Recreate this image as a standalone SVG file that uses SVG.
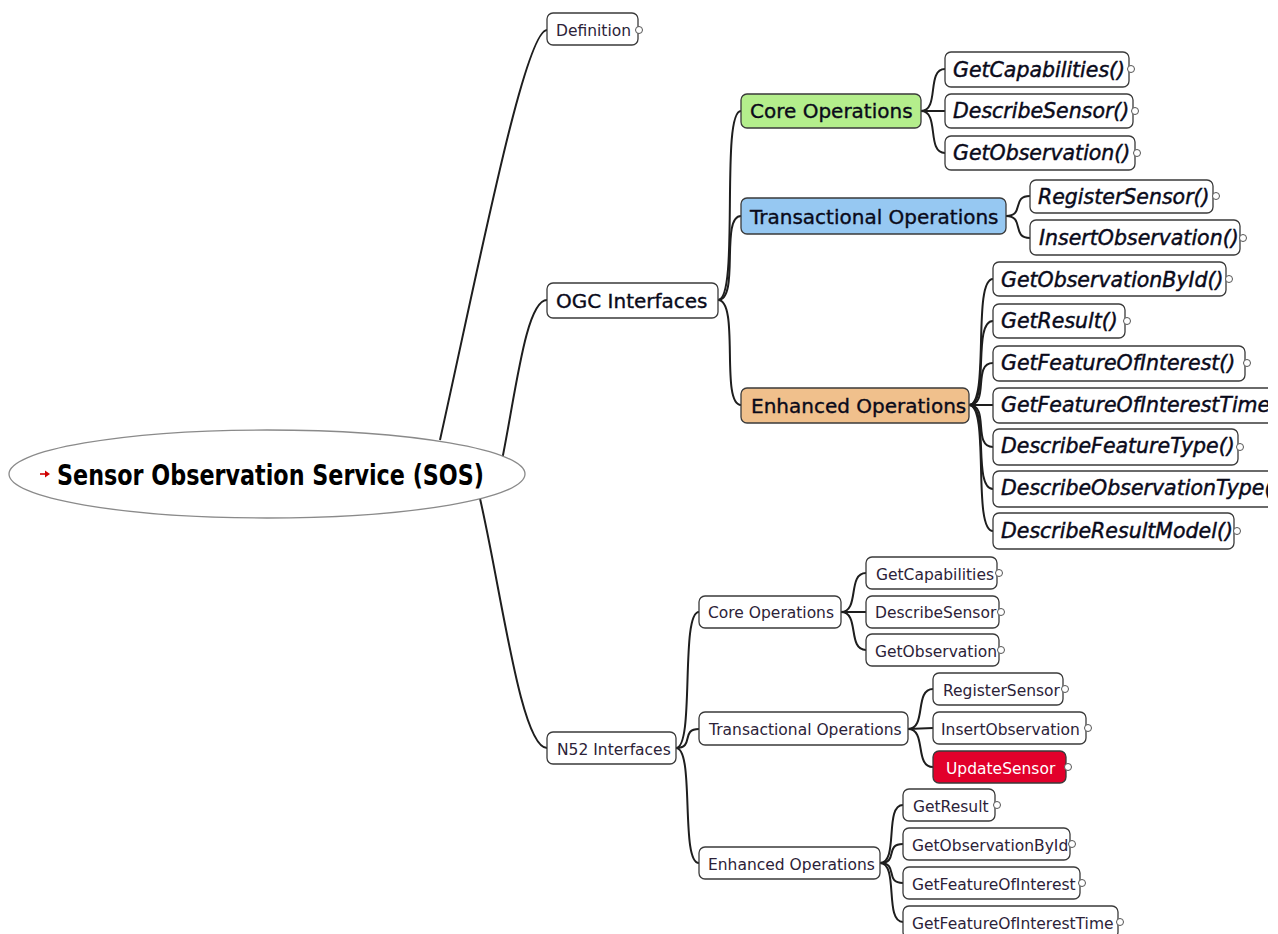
<svg xmlns="http://www.w3.org/2000/svg" width="1278" height="934" viewBox="0 0 1278 934">
  <defs>
    <style>
      .edge { fill: none; stroke: #1e1e1e; stroke-width: 2; }
      .box { fill: #ffffff; stroke: #3a3a3a; stroke-width: 1.3; }
      .green { fill: #b4ee8c; }
      .blue { fill: #96c8f2; }
      .orange { fill: #f0c08c; }
      .red { fill: #e2002b; }
      .fold { fill: #ffffff; stroke: #555555; stroke-width: 1; }
      .t { font-family: "DejaVu Sans", "Liberation Sans", sans-serif; fill: #0a0a1a; }
      .lg { font-size: 20px; stroke: #0a0a1a; stroke-width: 0.35; }
      .it { font-size: 20.5px; font-style: italic; stroke: #0a0a1a; stroke-width: 0.45; }
      .sm { font-size: 15.5px; fill: #2c2238; }
      .root { font-family: "DejaVu Sans Condensed", "DejaVu Sans", sans-serif; font-weight: bold; font-size: 28px; fill: #000; }
    </style>
    <clipPath id="view">
      <rect x="0" y="0" width="1268" height="934"/>
    </clipPath>
  </defs>

  <!-- connectors -->
  <g id="connectors">
    <!-- root branches -->
    <path class="edge" d="M440 440 C480 260 525 30 547 30"/>
    <path class="edge" d="M500 470 C515 400 525 300 547 300"/>
    <path class="edge" d="M478 490 C500 580 520 748 547 748"/>
    <!-- OGC Interfaces -->
    <path class="edge" d="M718 300 C740 300 720 111 741 111"/>
    <path class="edge" d="M718 300 C740 300 720 216 741 216"/>
    <path class="edge" d="M718 300 C740 300 720 405 741 405"/>
    <!-- OGC core -->
    <path class="edge" d="M921 111 C940 111 926 69 945 69"/>
    <path class="edge" d="M921 111 L945 111"/>
    <path class="edge" d="M921 111 C940 111 926 153 945 153"/>
    <!-- OGC transactional -->
    <path class="edge" d="M1006 216 C1025 216 1011 196 1030 196"/>
    <path class="edge" d="M1006 216 C1025 216 1011 238 1030 238"/>
    <!-- OGC enhanced -->
    <path class="edge" d="M969 405 C990 405 972 279 993 279"/>
    <path class="edge" d="M969 405 C990 405 972 321 993 321"/>
    <path class="edge" d="M969 405 C990 405 972 363 993 363"/>
    <path class="edge" d="M969 405 L993 405"/>
    <path class="edge" d="M969 405 C990 405 972 447 993 447"/>
    <path class="edge" d="M969 405 C990 405 972 489 993 489"/>
    <path class="edge" d="M969 405 C990 405 972 531 993 531"/>
    <!-- N52 Interfaces -->
    <path class="edge" d="M676 748 C695 748 680 612 699 612"/>
    <path class="edge" d="M676 748 C695 748 680 729 699 729"/>
    <path class="edge" d="M676 748 C695 748 680 863 699 863"/>
    <!-- N52 core -->
    <path class="edge" d="M841 612 C860 612 847 573 866 573"/>
    <path class="edge" d="M841 612 L866 612"/>
    <path class="edge" d="M841 612 C860 612 847 650 866 650"/>
    <!-- N52 transactional -->
    <path class="edge" d="M908 729 C927 729 914 689 933 689"/>
    <path class="edge" d="M908 729 L933 728"/>
    <path class="edge" d="M908 729 C927 729 914 767 933 767"/>
    <!-- N52 enhanced -->
    <path class="edge" d="M880 863 C899 863 884 805 903 805"/>
    <path class="edge" d="M880 863 C899 863 884 844 903 844"/>
    <path class="edge" d="M880 863 C899 863 884 883 903 883"/>
    <path class="edge" d="M880 863 C899 863 884 922 903 922"/>
  </g>

  <!-- root -->
  <g id="root">
    <ellipse cx="267" cy="474" rx="258" ry="44" fill="#ffffff" stroke="#8a8a8a" stroke-width="1.3"/>
    <path d="M40 474 H46" stroke="#d00000" stroke-width="1.6"/>
    <polygon points="45,470.5 50,474 45,477.5" fill="#d00000"/>
    <text class="root" x="57" y="485" textLength="427" lengthAdjust="spacingAndGlyphs">Sensor Observation Service (SOS)</text>
  </g>

  <g id="definition">
    <rect class="box" x="547" y="13" width="91" height="32" rx="6"/>
    <text class="t sm" x="556" y="36">Definition</text>
    <circle class="fold" cx="639" cy="30" r="3.5"/>
  </g>

  <g id="ogc-interfaces">
    <rect class="box" x="547" y="283" width="171" height="35" rx="6"/>
    <text class="t lg" x="556" y="308">OGC Interfaces</text>
  </g>

  <g id="ogc-core">
    <rect class="box green" x="741" y="94" width="180" height="34" rx="6"/>
    <text class="t lg" x="750" y="118">Core Operations</text>
  </g>
  <g id="ogc-transactional">
    <rect class="box blue" x="741" y="198" width="265" height="36" rx="6"/>
    <text class="t lg" x="750" y="224">Transactional Operations</text>
  </g>
  <g id="ogc-enhanced">
    <rect class="box orange" x="741" y="388" width="228" height="35" rx="6"/>
    <text class="t lg" x="751" y="413">Enhanced Operations</text>
  </g>

  <g id="ogc-getcapabilities">
    <rect class="box" x="945" y="52" width="184" height="35" rx="6"/>
    <text class="t it" x="953" y="77">GetCapabilities()</text>
    <circle class="fold" cx="1131" cy="69" r="3.5"/>
  </g>
  <g id="ogc-describesensor">
    <rect class="box" x="945" y="94" width="188" height="34" rx="6"/>
    <text class="t it" x="953" y="118">DescribeSensor()</text>
    <circle class="fold" cx="1135" cy="111" r="3.5"/>
  </g>
  <g id="ogc-getobservation">
    <rect class="box" x="945" y="136" width="190" height="34" rx="6"/>
    <text class="t it" x="953" y="160">GetObservation()</text>
    <circle class="fold" cx="1137" cy="153" r="3.5"/>
  </g>

  <g id="ogc-registersensor">
    <rect class="box" x="1030" y="180" width="183" height="33" rx="6"/>
    <text class="t it" x="1038" y="204">RegisterSensor()</text>
    <circle class="fold" cx="1216" cy="196" r="3.5"/>
  </g>
  <g id="ogc-insertobservation">
    <rect class="box" x="1030" y="220" width="210" height="35" rx="6"/>
    <text class="t it" x="1039" y="245">InsertObservation()</text>
    <circle class="fold" cx="1243" cy="238" r="3.5"/>
  </g>

  <!-- the enhanced branch runs past the right margin and is cut there -->
  <g clip-path="url(#view)">
    <g id="ogc-getobservationbyid">
      <rect class="box" x="993" y="262" width="233" height="34" rx="6"/>
      <text class="t it" x="1001" y="287">GetObservationById()</text>
      <circle class="fold" cx="1229" cy="279" r="3.5"/>
    </g>
    <g id="ogc-getresult">
      <rect class="box" x="993" y="304" width="132" height="34" rx="6"/>
      <text class="t it" x="1001" y="328">GetResult()</text>
      <circle class="fold" cx="1127" cy="321" r="3.5"/>
    </g>
    <g id="ogc-getfeatureofinterest">
      <rect class="box" x="993" y="346" width="252" height="35" rx="6"/>
      <text class="t it" x="1001" y="370">GetFeatureOfInterest()</text>
      <circle class="fold" cx="1247" cy="363" r="3.5"/>
    </g>
    <g id="ogc-getfeatureofinteresttime">
      <rect class="box" x="993" y="388" width="300" height="35" rx="6"/>
      <text class="t it" x="1001" y="412">GetFeatureOfInterestTime</text>
    </g>
    <g id="ogc-describefeaturetype">
      <rect class="box" x="993" y="429" width="245" height="36" rx="6"/>
      <text class="t it" x="1001" y="453">DescribeFeatureType()</text>
      <circle class="fold" cx="1240" cy="447" r="3.5"/>
    </g>
    <g id="ogc-describeobservationtype">
      <rect class="box" x="993" y="471" width="300" height="36" rx="6"/>
      <text class="t it" x="1001" y="495">DescribeObservationType()</text>
    </g>
    <g id="ogc-describeresultmodel">
      <rect class="box" x="993" y="513" width="241" height="36" rx="6"/>
      <text class="t it" x="1001" y="538">DescribeResultModel()</text>
      <circle class="fold" cx="1237" cy="531" r="3.5"/>
    </g>
  </g>

  <g id="n52-interfaces">
    <rect class="box" x="547" y="732" width="129" height="32" rx="6"/>
    <text class="t sm" x="557" y="755">N52 Interfaces</text>
  </g>

  <g id="n52-core">
    <rect class="box" x="699" y="596" width="142" height="32" rx="6"/>
    <text class="t sm" x="708" y="618">Core Operations</text>
  </g>
  <g id="n52-transactional">
    <rect class="box" x="699" y="712" width="209" height="33" rx="6"/>
    <text class="t sm" x="709" y="735">Transactional Operations</text>
  </g>
  <g id="n52-enhanced">
    <rect class="box" x="699" y="847" width="181" height="32" rx="6"/>
    <text class="t sm" x="708" y="870">Enhanced Operations</text>
  </g>

  <g id="n52-getcapabilities">
    <rect class="box" x="866" y="557" width="131" height="32" rx="6"/>
    <text class="t sm" x="876" y="580">GetCapabilities</text>
    <circle class="fold" cx="999" cy="573" r="3.5"/>
  </g>
  <g id="n52-describesensor">
    <rect class="box" x="866" y="596" width="133" height="32" rx="6"/>
    <text class="t sm" x="875" y="618">DescribeSensor</text>
    <circle class="fold" cx="1001" cy="612" r="3.5"/>
  </g>
  <g id="n52-getobservation">
    <rect class="box" x="866" y="634" width="133" height="32" rx="6"/>
    <text class="t sm" x="875" y="657">GetObservation</text>
    <circle class="fold" cx="1001" cy="650" r="3.5"/>
  </g>

  <g id="n52-registersensor">
    <rect class="box" x="933" y="673" width="130" height="32" rx="6"/>
    <text class="t sm" x="943" y="696">RegisterSensor</text>
    <circle class="fold" cx="1065" cy="689" r="3.5"/>
  </g>
  <g id="n52-insertobservation">
    <rect class="box" x="933" y="712" width="153" height="32" rx="6"/>
    <text class="t sm" x="941" y="735">InsertObservation</text>
    <circle class="fold" cx="1088" cy="728" r="3.5"/>
  </g>
  <g id="n52-updatesensor">
    <rect class="box red" x="933" y="751" width="133" height="32" rx="6"/>
    <text class="t sm" x="946" y="774" style="fill:#ffffff">UpdateSensor</text>
    <circle class="fold" cx="1068" cy="767" r="3.5"/>
  </g>

  <g id="n52-getresult">
    <rect class="box" x="903" y="789" width="92" height="32" rx="6"/>
    <text class="t sm" x="913" y="812">GetResult</text>
    <circle class="fold" cx="997" cy="805" r="3.5"/>
  </g>
  <g id="n52-getobservationbyid">
    <rect class="box" x="903" y="828" width="167" height="32" rx="6"/>
    <text class="t sm" x="912" y="851">GetObservationById</text>
    <circle class="fold" cx="1072" cy="844" r="3.5"/>
  </g>
  <g id="n52-getfeatureofinterest">
    <rect class="box" x="903" y="867" width="177" height="32" rx="6"/>
    <text class="t sm" x="912" y="890">GetFeatureOfInterest</text>
    <circle class="fold" cx="1082" cy="883" r="3.5"/>
  </g>
  <g id="n52-getfeatureofinteresttime">
    <rect class="box" x="903" y="906" width="215" height="32" rx="6"/>
    <text class="t sm" x="912" y="929">GetFeatureOfInterestTime</text>
    <circle class="fold" cx="1120" cy="922" r="3.5"/>
  </g>
</svg>
